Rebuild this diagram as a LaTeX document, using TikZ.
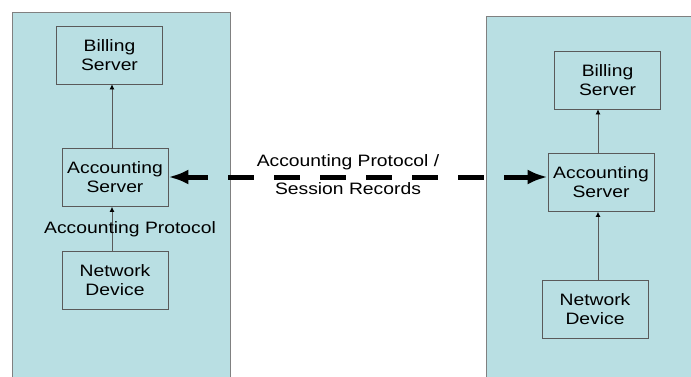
\documentclass[tikz,border=0pt]{standalone}
\usepackage{fontspec}
\setmainfont{Liberation Sans}[FakeStretch=1.17]
\usepackage{tikz}
\usetikzlibrary{arrows.meta}
\definecolor{panel}{HTML}{B9DFE3}
\definecolor{edge}{HTML}{808080}
\definecolor{boxline}{HTML}{5A5A5A}

\begin{document}
\begin{tikzpicture}[x=1pt, y=-1pt, every node/.style={font=\fontsize{16.5}{19}\selectfont},
    box/.style={draw=boxline, thick, align=center, inner sep=0pt, minimum width=106pt, minimum height=58pt},
    flow/.style={-{Latex[black,length=5pt,width=5pt]}, draw=boxline, thick},
    record/.style={{Latex[length=20pt,width=15pt]}-{Latex[length=20pt,width=15pt]}, line width=5pt, dash pattern=on 26pt off 20pt, dash phase=4pt}]

    \useasboundingbox (0,0) rectangle (691,376);

    % the two sites
    \draw[edge, fill=panel] (12,12) rectangle (230,390);
    \draw[edge, fill=panel] (486,16) rectangle (700,390);

    % left site
    \node[box] (bill1) at (109.5,55) {Billing\\Server};
    \node[box] (acc1) at (115,177.5) {Accounting\\Server};
    \node[box] (net1) at (115,280) {Network\\Device};
    \coordinate (axisL) at (112,0);
    \draw[flow] (axisL |- net1.north) -- (axisL |- acc1.south);
    \draw[flow] (axisL |- acc1.north) -- (axisL |- bill1.south);
    \node (proto) at (130,229) {Accounting Protocol};

    % right site
    \node[box] (bill2) at (607.5,80) {Billing\\Server};
    \node[box] (acc2) at (601,182.5) {Accounting\\Server};
    \node[box] (net2) at (595,309.5) {Network\\Device};
    \coordinate (axisR) at (598,0);
    \draw[flow] (axisR |- net2.north) -- (axisR |- acc2.south);
    \draw[flow] (axisR |- acc2.north) -- (axisR |- bill2.south);

    % exchange between the sites
    \coordinate (tipL) at (acc1.east |- 0,177);
    \coordinate (tipR) at (acc2.west |- 0,177);
    \draw[record] (tipL) -- (tipR);
    \node[align=center, font=\fontsize{16.5}{28}\selectfont] (rec) at (348,175) {Accounting Protocol /\\Session Records};

\end{tikzpicture}
\end{document}
